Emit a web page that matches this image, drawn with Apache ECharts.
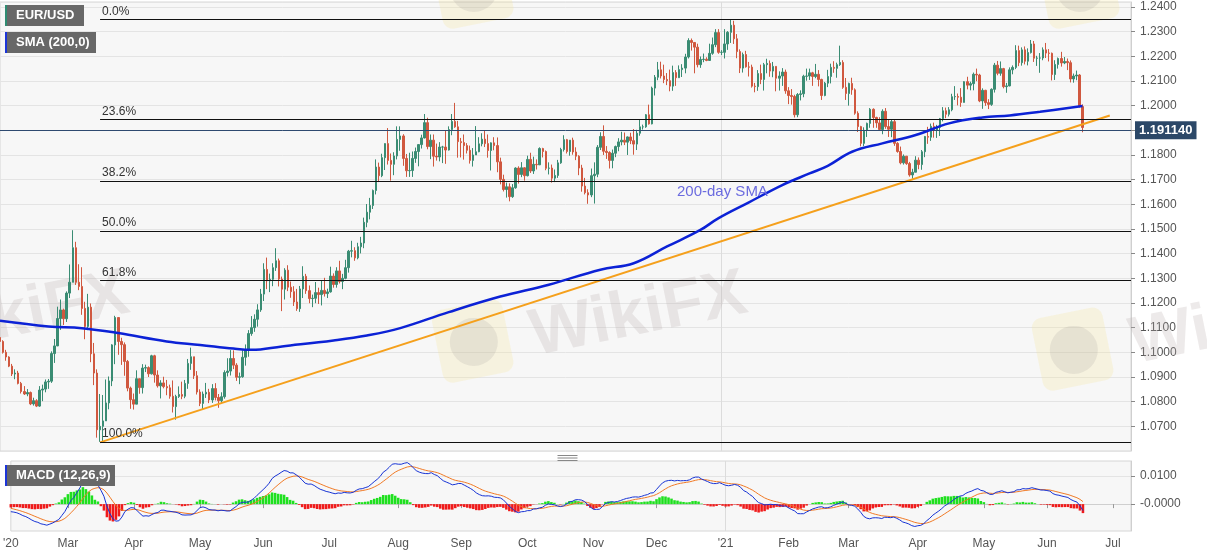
<!DOCTYPE html>
<html>
<head>
<meta charset="utf-8">
<title>EUR/USD daily</title>
<script src="https://cdn.jsdelivr.net/npm/echarts@6.0.0/dist/echarts.min.js"></script>
<style>
html, body { margin: 0; padding: 0; background: #fff; }
#main { width: 1207px; height: 555px; }
</style>
</head>
<body>
<div id="main"></div>
<script>
// daily candles, 2020-02-04 .. 2021-06-17 (open = previous close)
var firstOpen = 1.1060;
var closes = [
    // Feb 2020
    1.1044,1.1000,1.0981,1.0944, 1.0912,1.0916,1.0874,1.0841,1.0831, 1.0837,1.0791,1.0804,1.0782,1.0847, 1.0851,1.0880,1.0883,1.0995,1.1026,
    // Mar
    1.1137,1.1172,1.1136,1.1240,1.1284, 1.1424,1.1284,1.1267,1.1178,1.1105, 1.1183,1.0994,1.0916,1.0686,1.0700, 1.0722,1.0795,1.0884,1.1030,1.1141, 1.1044,1.1031,
    // Apr
    1.0963,1.0855,1.0808, 1.0790,1.0893,1.0857,1.0936,1.0938, 1.0913,1.0986,1.0908,1.0864,1.0876, 1.0861,1.0856,1.0822,1.0780,1.0821, 1.0829,1.0822,1.0874,1.0955,
    // May
    1.0982, 1.0905,1.0839,1.0793,1.0831,1.0838, 1.0807,1.0853,1.0817,1.0804,1.0820, 1.0918,1.0924,1.0975,1.0948,1.0899, 1.0901,1.0980,1.1008,1.1076,1.1100,
    // Jun
    1.1134,1.1172,1.1236,1.1336,1.1290, 1.1296,1.1343,1.1371,1.1297,1.1256, 1.1333,1.1264,1.1246,1.1204,1.1177, 1.1257,1.1308,1.1250,1.1218,1.1219, 1.1242,1.1234,
    // Jul
    1.1251,1.1238,1.1245, 1.1309,1.1275,1.1330,1.1287,1.1300, 1.1343,1.1410,1.1412,1.1383,1.1428, 1.1443,1.1527,1.1568,1.1595,1.1656, 1.1751,1.1716,1.1789,1.1846,1.1778,
    // Aug
    1.1762,1.1796,1.1863,1.1877,1.1786, 1.1736,1.1737,1.1786,1.1814,1.1842, 1.1869,1.1931,1.1834,1.1860,1.1795, 1.1792,1.1832,1.1832,1.1820,1.1903, 1.1936,
    // Sep
    1.1914,1.1854,1.1850,1.1838, 1.1819,1.1778,1.1800,1.1813,1.1845, 1.1864,1.1846,1.1818,1.1849,1.1838, 1.1772,1.1701,1.1660,1.1671,1.1631, 1.1667,1.1747,1.1721,
    // Oct
    1.1748,1.1716, 1.1782,1.1735,1.1762,1.1760,1.1826, 1.1814,1.1746,1.1747,1.1706,1.1717, 1.1768,1.1822,1.1862,1.1814,1.1860, 1.1812,1.1795,1.1747,1.1674,1.1647,
    // Nov
    1.1638,1.1716,1.1722,1.1831,1.1875, 1.1815,1.1810,1.1778,1.1807,1.1834, 1.1853,1.1860,1.1852,1.1873,1.1858, 1.1844,1.1888,1.1914,1.1914,1.1963, 1.1926,
    // Dec
    1.2071,1.2115,1.2145,1.2120, 1.2106,1.2101,1.2079,1.2134,1.2113, 1.2146,1.2152,1.2197,1.2264,1.2256, 1.2237,1.2166,1.2187,1.2188,1.2183, 1.2212,1.2247,1.2296,1.2216,
    // Jan 2021
    1.2216, 1.2250,1.2297,1.2326,1.2271,1.2219, 1.2152,1.2207,1.2157,1.2156,1.2079, 1.2077,1.2130,1.2106,1.2166,1.2171, 1.2140,1.2159,1.2111,1.2120,1.2136,
    // Feb
    1.2060,1.2041,1.2037,1.1963,1.2045, 1.2048,1.2119,1.2120,1.2133,1.2118, 1.2127,1.2106,1.2041,1.2091,1.2118, 1.2155,1.2151,1.2166,1.2175,1.2074,
    // Mar
    1.2049,1.2090,1.2064,1.1969,1.1915, 1.1847,1.1900,1.1928,1.1985,1.1952, 1.1930,1.1903,1.1977,1.1915,1.1904, 1.1935,1.1847,1.1814,1.1768,1.1795, 1.1765,1.1719,1.1730,
    // Apr
    1.1779,1.1761, 1.1813,1.1875,1.1872,1.1916,1.1899, 1.1912,1.1947,1.1979,1.1965,1.1983, 1.2036,1.2037,1.2034,1.2013,1.2097, 1.2083,1.2089,1.2127,1.2124,1.2019,
    // May
    1.2062,1.2012,1.2005,1.2066,1.2164, 1.2131,1.2150,1.2077,1.2080,1.2145, 1.2155,1.2223,1.2174,1.2226,1.2180, 1.2215,1.2250,1.2192,1.2193,1.2193, 1.2226,
    // Jun
    1.2213,1.2212,1.2126,1.2167, 1.2191,1.2173,1.2179,1.2174,1.2108, 1.2120,1.2124,1.1996,1.19114
];
var highs = [
    1.1068,1.1049,1.1010,1.0984, 1.0953,1.0931,1.0925,1.0880,1.0863, 1.0851,1.0841,1.0816,1.0810,1.0863, 1.0869,1.0890,1.0892,1.1004,1.1054,
    1.1185,1.1214,1.1177,1.1247,1.1356, 1.1495,1.1448,1.1357,1.1345,1.1205, 1.1237,1.1198,1.1038,1.0931,1.0831, 1.0827,1.0890,1.0902,1.1033,1.1148, 1.1114,1.1059,
    1.1040,1.0969,1.0861, 1.0833,1.0927,1.0892,1.0952,1.0950, 1.0943,1.0990,1.0990,1.0927,1.0887, 1.0901,1.0888,1.0869,1.0886,1.0828, 1.0862,1.0881,1.0888,1.0973,
    1.1019, 1.0977,1.0924,1.0850,1.0841,1.0876, 1.0852,1.0871,1.0875,1.0831,1.0838, 1.0927,1.0976,1.1009,1.1008,1.0956, 1.0918,1.1008,1.1032,1.1090,1.1147,
    1.1154,1.1195,1.1257,1.1361,1.1384, 1.1319,1.1361,1.1422,1.1380,1.1307, 1.1341,1.1353,1.1287,1.1268,1.1257, 1.1269,1.1349,1.1318,1.1271,1.1234, 1.1285,1.1262,
    1.1293,1.1302,1.1258, 1.1347,1.1320,1.1345,1.1371,1.1318, 1.1375,1.1415,1.1452,1.1426,1.1444, 1.1468,1.1546,1.1601,1.1626,1.1660, 1.1782,1.1769,1.1805,1.1847,1.1909,
    1.1806,1.1811,1.1916,1.1916,1.1884, 1.1804,1.1809,1.1814,1.1830,1.1843, 1.1882,1.1966,1.1951,1.1883,1.1883, 1.1846,1.1852,1.1837,1.1900,1.1916, 1.1966,
    1.2011,1.1938,1.1869,1.1883, 1.1848,1.1838,1.1828,1.1917,1.1872, 1.1888,1.1901,1.1883,1.1851,1.1872, 1.1871,1.1789,1.1720,1.1688,1.1685, 1.1682,1.1750,1.1754,
    1.1771,1.1750, 1.1797,1.1809,1.1793,1.1782,1.1831, 1.1829,1.1818,1.1770,1.1761,1.1741, 1.1780,1.1829,1.1880,1.1865,1.1860, 1.1870,1.1831,1.1799,1.1760,1.1707,
    1.1661,1.1745,1.1770,1.1840,1.1892, 1.1920,1.1836,1.1815,1.1822,1.1838, 1.1868,1.1894,1.1891,1.1875,1.1890, 1.1905,1.1902,1.1942,1.1923,1.1966, 1.2004,
    1.2077,1.2124,1.2177,1.2178, 1.2166,1.2132,1.2146,1.2162,1.2144, 1.2163,1.2168,1.2210,1.2273,1.2272, 1.2255,1.2251,1.2199,1.2211,1.2196, 1.2251,1.2276,1.2310,1.2310,
    1.2225, 1.2310,1.2302,1.2349,1.2344,1.2290, 1.2228,1.2215,1.2222,1.2177,1.2166, 1.2092,1.2144,1.2166,1.2173,1.2190, 1.2183,1.2177,1.2160,1.2139,1.2152,
    1.2146,1.2075,1.2067,1.2044,1.2051, 1.2062,1.2125,1.2150,1.2150,1.2137, 1.2169,1.2144,1.2109,1.2096,1.2145, 1.2170,1.2180,1.2174,1.2243,1.2184,
    1.2112,1.2093,1.2113,1.2070,1.1977, 1.1918,1.1912,1.1931,1.1990,1.1989, 1.1955,1.1953,1.1985,1.1990,1.1944, 1.1944,1.1942,1.1852,1.1834,1.1802, 1.1796,1.1772,1.1744,
    1.1795,1.1790, 1.1820,1.1877,1.1914,1.1927,1.1931, 1.1922,1.1950,1.1994,1.1992,1.1994, 1.2048,1.2079,1.2049,1.2071,1.2099, 1.2117,1.2097,1.2134,1.2150,1.2129,
    1.2070,1.2064,1.2026,1.2070,1.2173, 1.2181,1.2179,1.2153,1.2092,1.2155, 1.2163,1.2245,1.2243,1.2236,1.2240, 1.2232,1.2266,1.2262,1.2202,1.2213, 1.2236,
    1.2254,1.2229,1.2215,1.2184, 1.2195,1.2218,1.2197,1.2191,1.2183, 1.2130,1.2142,1.2128,1.2005
];
var lows = [
    1.1035,1.0995,1.0966,1.0940, 1.0904,1.0891,1.0870,1.0833,1.0827, 1.0822,1.0786,1.0784,1.0778,1.0779, 1.0802,1.0838,1.0852,1.0876,1.0957,
    1.1025,1.1091,1.1111,1.1123,1.1220, 1.1327,1.1273,1.1252,1.1152,1.1053, 1.1090,1.0960,1.0867,1.0654,1.0637, 1.0636,1.0722,1.0769,1.0863,1.0952, 1.0990,1.0949,
    1.0905,1.0842,1.0771, 1.0768,1.0795,1.0832,1.0833,1.0920, 1.0900,1.0910,1.0877,1.0857,1.0813, 1.0854,1.0826,1.0812,1.0756,1.0727, 1.0815,1.0810,1.0814,1.0852,
    1.0929, 1.0892,1.0829,1.0782,1.0768,1.0815, 1.0794,1.0795,1.0805,1.0775,1.0792, 1.0812,1.0902,1.0906,1.0932,1.0884, 1.0871,1.0897,1.0946,1.0982,1.1067,
    1.1083,1.1104,1.1164,1.1208,1.1256, 1.1244,1.1268,1.1330,1.1267,1.1167, 1.1214,1.1248,1.1221,1.1188,1.1168, 1.1164,1.1220,1.1237,1.1199,1.1183, 1.1199,1.1196,
    1.1190,1.1226,1.1220, 1.1242,1.1262,1.1262,1.1279,1.1256, 1.1296,1.1323,1.1385,1.1371,1.1377, 1.1401,1.1422,1.1507,1.1539,1.1581, 1.1640,1.1690,1.1710,1.1739,1.1761,
    1.1696,1.1718,1.1782,1.1817,1.1756, 1.1711,1.1711,1.1711,1.1768,1.1754, 1.1826,1.1867,1.1823,1.1783,1.1753, 1.1777,1.1774,1.1767,1.1764,1.1818, 1.1880,
    1.1910,1.1789,1.1790,1.1781, 1.1806,1.1765,1.1753,1.1802,1.1811, 1.1835,1.1832,1.1789,1.1737,1.1819, 1.1730,1.1681,1.1652,1.1627,1.1612, 1.1626,1.1663,1.1684,
    1.1710,1.1696, 1.1713,1.1727,1.1723,1.1741,1.1759, 1.1790,1.1738,1.1721,1.1688,1.1690, 1.1707,1.1764,1.1814,1.1806,1.1797, 1.1801,1.1779,1.1718,1.1651,1.1640,
    1.1602,1.1629,1.1603,1.1710,1.1820, 1.1800,1.1784,1.1745,1.1746,1.1791, 1.1815,1.1839,1.1840,1.1800,1.1844, 1.1801,1.1820,1.1878,1.1903,1.1910, 1.1923,
    1.1924,1.2041,1.2103,1.2110, 1.2091,1.2083,1.2058,1.2060,1.2080, 1.2126,1.2116,1.2131,1.2191,1.2223, 1.2131,1.2155,1.2153,1.2176,1.2180, 1.2194,1.2206,1.2237,1.2210,
    1.2205, 1.2191,1.2226,1.2254,1.2250,1.2192, 1.2132,1.2134,1.2154,1.2118,1.2073, 1.2054,1.2060,1.2087,1.2061,1.2131, 1.2117,1.2115,1.2058,1.2061,1.2080,
    1.2048,1.2006,1.2004,1.1952,1.1953, 1.2021,1.2034,1.2101,1.2104,1.2080, 1.2111,1.2078,1.2023,1.2038,1.2075, 1.2090,1.2133,1.2113,1.2161,1.2068,
    1.2023,1.2000,1.2044,1.1963,1.1893, 1.1835,1.1836,1.1873,1.1910,1.1910, 1.1910,1.1900,1.1884,1.1906,1.1873, 1.1872,1.1837,1.1809,1.1762,1.1761, 1.1760,1.1712,1.1704,
    1.1738,1.1742, 1.1740,1.1791,1.1845,1.1857,1.1870, 1.1869,1.1877,1.1936,1.1949,1.1956, 1.1977,1.2023,1.2001,1.1995,1.2014, 1.2066,1.2062,1.2062,1.2099,1.2014,
    1.1987,1.1999,1.1986,1.1999,1.2053, 1.2123,1.2121,1.2070,1.2052,1.2078, 1.2127,1.2148,1.2160,1.2162,1.2167, 1.2163,1.2211,1.2177,1.2161,1.2133, 1.2184,
    1.2193,1.2179,1.2102,1.2104, 1.2150,1.2158,1.2168,1.2144,1.2094, 1.2093,1.2103,1.1992,1.1892
];

// 200-day SMA (candle index, value)
var smaIdx = [0, 16, 27, 39, 55, 66, 77, 83, 93, 110, 121, 132, 148, 165, 181, 198, 209, 220, 231, 237, 247, 258, 267, 273, 281, 291, 302, 313, 324, 333, 343, 357];
var smaVal = [1.1128, 1.1105, 1.1098, 1.1078, 1.1044, 1.1030, 1.1015, 1.1010, 1.1024, 1.1048, 1.1068, 1.1098, 1.1163, 1.1226, 1.1274, 1.1335,
              1.1361, 1.1429, 1.1496, 1.1544, 1.1608, 1.1678, 1.1725, 1.1756, 1.1813, 1.1847, 1.1881, 1.1928, 1.1952, 1.1960, 1.1975, 1.1998];

// support line from the March 2020 low
var trendIdx = [33, 366];
var trendVal = [1.0635, 1.1960];

// fibonacci retracement, Mar-2020 low to Jan-2021 high
var fibHigh = 1.2349;
var fibLow = 1.0636;
var fibRatios = [0, 0.236, 0.382, 0.5, 0.618, 1];
var fibLabels = ['0.0%', '23.6%', '38.2%', '50.0%', '61.8%', '100.0%'];
var fibStart = 33;

var lastPrice = 1.19114;
// MACD / signal at the left edge (seeds the EMAs)
var macdSeed = -0.0027;
var signalSeed = -0.0015;
var macdTicks = [0, 0.01];
var monthNames = ['Jan', 'Feb', 'Mar', 'Apr', 'May', 'Jun', 'Jul', 'Aug', 'Sep', 'Oct', 'Nov', 'Dec'];

var UP = '#3a8c73', DOWN = '#d0583f';
var FONT = '"Liberation Sans", Arial, sans-serif';

// trading days (weekdays) from 2020-02-04 to 2021-07-09
function pad(n) { return n < 10 ? '0' + n : '' + n; }
var days = [], dayMonth = [], dayYear = [];
var t = Date.UTC(2020, 1, 4);
while (days.length < 374) {
    var dt = new Date(t);
    var wd = dt.getUTCDay();
    if (wd !== 0 && wd !== 6) {
        days.push(dt.getUTCFullYear() + '-' + pad(dt.getUTCMonth() + 1) + '-' + pad(dt.getUTCDate()));
        dayMonth.push(dt.getUTCMonth());
        dayYear.push(dt.getUTCFullYear());
    }
    t += 86400000;
}
function isMonthStart(i) {
    return i === 0 || dayMonth[i] !== dayMonth[i - 1];
}
function isYearStart(i) {
    return i > 0 && dayYear[i] !== dayYear[i - 1];
}
function monthLabel(i) {
    if (i === 0 || dayMonth[i] === 0) return "'" + String(dayYear[i]).slice(2);
    return monthNames[dayMonth[i]];
}

// candles [open, close, low, high]
var candles = [];
for (var i = 0; i < closes.length; i++) {
    var o = i ? closes[i - 1] : firstOpen;
    var c = closes[i];
    candles.push([o, c, Math.min(lows[i], o, c), Math.max(highs[i], o, c)]);
}

// MACD (12,26,9) from the closes
function ema(src, n, seed) {
    var k = 2 / (n + 1), out = [], prev = seed;
    for (var j = 0; j < src.length; j++) {
        prev = j ? src[j] * k + prev * (1 - k) : seed;
        out.push(prev);
    }
    return out;
}
var ema12 = ema(closes, 12, closes[0]);
var ema26 = ema(closes, 26, closes[0] - macdSeed);
var macd = ema12.map(function (v, j) { return v - ema26[j]; });
var signal = ema(macd, 9, signalSeed);
var hist = macd.map(function (v, j) { return v - signal[j]; });

var smaData = smaIdx.map(function (x, j) { return [x, smaVal[j]]; });
var trendData = trendIdx.map(function (x, j) { return [x, trendVal[j]]; });

// fib lines + last price line
var markLines = [];
fibRatios.forEach(function (r, j) {
    var p = fibHigh - r * (fibHigh - fibLow);
    markLines.push([
        { xAxis: fibStart, yAxis: p, label: { formatter: fibLabels[j] } },
        { xAxis: days.length - 1, yAxis: p }
    ]);
});
markLines.push({
    yAxis: lastPrice,
    lineStyle: { color: '#2e4a70', width: 1, type: 'solid' },
    label: {
        position: 'end', distance: 4, formatter: lastPrice.toFixed(6),
        backgroundColor: '#2c4868', color: '#fff', fontWeight: 'bold', fontSize: 13,
        padding: [3, 4, 2, 4], fontFamily: FONT
    }
});

function tagBox(x, y, w, text, accent) {
    return {
        type: 'group', left: x, top: y, z: 100,
        children: [
            { type: 'rect', shape: { x: 0, y: 0, width: w, height: 21 }, style: { fill: '#686868' }, z: 100 },
            { type: 'rect', shape: { x: 0, y: 0, width: 2, height: 21 }, style: { fill: accent }, z: 101 },
            { type: 'text', x: 11, y: 4, style: { text: text, fill: '#fff', font: 'bold 13px ' + FONT }, z: 101 }
        ]
    };
}

// faint site watermark (logo tile + tilted text)
function watermark(x, y) {
    return {
        type: 'group', x: x, y: y, rotation: 0.2, z: 1, silent: true,
        children: [
            { type: 'rect', shape: { x: 0, y: 0, width: 72, height: 74, r: 10 }, style: { fill: 'rgba(248,226,140,0.22)' }, z: 1 },
            { type: 'circle', shape: { cx: 37, cy: 38, r: 24 }, style: { fill: 'rgba(150,140,140,0.16)' }, z: 1 },
            { type: 'text', x: 94, y: 12, style: { text: 'WikiFX', fill: 'rgba(185,172,172,0.26)', font: 'bold 66px ' + FONT }, z: 1 }
        ]
    };
}

var myChart = echarts.init(document.getElementById('main'));
var option = {
    animation: false,
    backgroundColor: '#fff',
    textStyle: { fontFamily: FONT },
    grid: [
        { left: 0, right: 76, top: 2, height: 449, show: true, backgroundColor: '#f7f7f7', borderColor: '#d6d6d6', borderWidth: 1 },
        { left: 0, right: 76, top: 461, height: 70, show: true, backgroundColor: '#f7f7f7', borderColor: '#d6d6d6', borderWidth: 1 }
    ],
    xAxis: [
        {
            type: 'category', gridIndex: 0, data: days, boundaryGap: false,
            axisLine: { show: false }, axisTick: { show: false }, axisLabel: { show: false },
            splitLine: { show: true, interval: function (i) { return isYearStart(i); }, lineStyle: { color: '#dcdcdc' } }
        },
        {
            type: 'category', gridIndex: 1, data: days, boundaryGap: false,
            axisLine: { show: true, lineStyle: { color: '#cfcfcf' } },
            axisTick: { show: true, length: 4, interval: function (i) { return isMonthStart(i); }, lineStyle: { color: '#999' } },
            axisLabel: {
                interval: function (i) { return isMonthStart(i); },
                formatter: function (v, i) { return monthLabel(i); },
                color: '#555', fontSize: 12, margin: 7
            },
            splitLine: { show: true, interval: function (i) { return isYearStart(i); }, lineStyle: { color: '#dcdcdc' } }
        }
    ],
    yAxis: [
        {
            type: 'value', gridIndex: 0, position: 'right', min: 1.06, max: 1.242, interval: 0.01,
            axisLine: { show: true, lineStyle: { color: '#cfcfcf' } },
            axisTick: { show: true, length: 4, lineStyle: { color: '#888' } },
            axisLabel: {
                color: '#555', fontSize: 12, margin: 9, showMaxLabel: false, showMinLabel: false,
                formatter: function (v) { return v.toFixed(4); }
            },
            splitLine: { lineStyle: { color: '#e4e4e4' } }
        },
        {
            type: 'value', gridIndex: 1, position: 'right', min: -0.0096, max: 0.0154,
            axisLine: { show: true, lineStyle: { color: '#cfcfcf' } },
            axisTick: { show: true, length: 4, customValues: macdTicks, lineStyle: { color: '#888' } },
            axisLabel: {
                color: '#555', fontSize: 12, margin: 9, customValues: macdTicks,
                formatter: function (v) { return Math.abs(v) < 1e-9 ? '-0.0000' : v.toFixed(4); }
            },
            splitLine: { lineStyle: { color: '#e4e4e4' } }
        }
    ],
    series: [
        {
            name: 'EUR/USD', type: 'candlestick', xAxisIndex: 0, yAxisIndex: 0,
            data: candles, barWidth: '66%',
            itemStyle: { color: UP, color0: DOWN, borderColor: UP, borderColor0: DOWN, borderWidth: 1 },
            markLine: {
                silent: true, symbol: ['none', 'none'], animation: false,
                lineStyle: { color: '#111', width: 1.2, type: 'solid' },
                label: { position: 'insideStartTop', distance: 2, color: '#333', fontSize: 12, fontFamily: FONT },
                data: markLines
            }
        },
        {
            name: 'SMA (200,0)', type: 'line', xAxisIndex: 0, yAxisIndex: 0,
            data: smaData, smooth: 0.4, symbol: 'none',
            lineStyle: { color: '#0c22d6', width: 2.5 }, z: 5
        },
        {
            name: 'trend', type: 'line', xAxisIndex: 0, yAxisIndex: 0,
            data: trendData, symbol: 'none',
            lineStyle: { color: '#f5a01c', width: 2 }, z: 4
        },
        {
            name: 'hist', type: 'bar', xAxisIndex: 1, yAxisIndex: 1,
            data: hist, barWidth: '85%',
            itemStyle: { color: function (p) { return p.value >= 0 ? '#1fe01f' : '#f01a1a'; } }
        },
        {
            name: 'MACD', type: 'line', xAxisIndex: 1, yAxisIndex: 1,
            data: macd, symbol: 'none', lineStyle: { color: '#1733d4', width: 1 }, z: 5
        },
        {
            name: 'signal', type: 'line', xAxisIndex: 1, yAxisIndex: 1,
            data: signal, symbol: 'none', lineStyle: { color: '#f07a26', width: 1 }, z: 4
        }
    ],
    graphic: [
        watermark(-188, 312),
        watermark(430, 312),
        watermark(1030, 320),
        watermark(430, -42),
        watermark(1036, -42),
        tagBox(5, 5, 79, 'EUR/USD', '#2f8c72'),
        tagBox(5, 32, 91, 'SMA (200,0)', '#1c35d8'),
        tagBox(5, 465, 110, 'MACD (12,26,9)', '#1c35d8'),
        { type: 'text', left: 677, top: 184, z: 100, style: { text: '200-day SMA', fill: '#6b6bdf', font: '15px ' + FONT } },
        // pane resize handle
        {
            type: 'group', left: 555, top: 453, z: 100,
            children: [
                { type: 'line', shape: { x1: 0, y1: 0, x2: 20, y2: 0 }, style: { stroke: '#888', lineWidth: 1 } },
                { type: 'line', shape: { x1: 0, y1: 2.5, x2: 20, y2: 2.5 }, style: { stroke: '#888', lineWidth: 1 } },
                { type: 'line', shape: { x1: 0, y1: 5, x2: 20, y2: 5 }, style: { stroke: '#888', lineWidth: 1 } }
            ]
        }
    ]
};
myChart.setOption(option);
</script>
</body>
</html>
